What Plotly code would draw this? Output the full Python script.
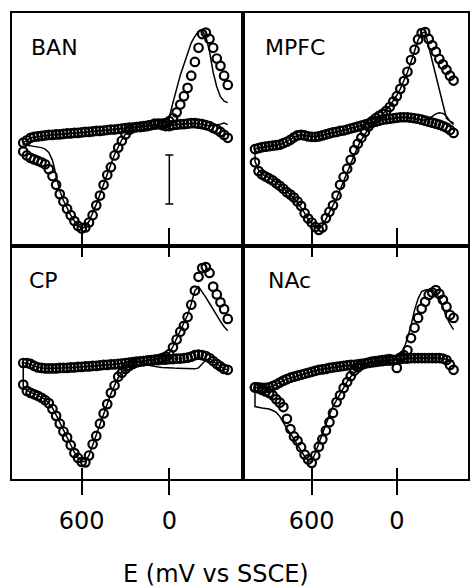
import plotly.graph_objects as go

# ---- potential sweep (mV vs SSCE) ----
E_up = [-400, -375, -350, -325, -300, -275, -250, -225, -200, -175,
        -150, -125, -100, -75, -50, -25, 0, 25, 50, 75,
        100, 125, 150, 175, 200, 225, 250, 275, 300, 325,
        350, 375, 400, 425, 450, 475, 500, 525, 550, 575,
        600, 625, 650, 675, 700, 725, 750, 775, 800, 825,
        850, 875, 900, 925, 950, 975, 1000]
E_down = [1000, 975, 950, 925, 900, 875, 850, 825, 800, 775,
          750, 725, 700, 675, 650, 625, 600, 575, 550, 525,
          500, 475, 450, 425, 400, 375, 350, 325, 300, 275,
          250, 225, 200, 175, 150, 125, 100, 75, 50, 25,
          0, -25, -50, -75, -100, -125, -150, -175, -200, -225,
          -250, -275, -300, -325, -350, -375, -400]

# ---- measured (circles): flat sweep (E_up) and peak sweep (E_down) ----
ban_meas_up = [-0.22, -0.16, -0.10, -0.05, -0.02, 0.02, 0.04, 0.06, 0.07, 0.08,
               0.08, 0.07, 0.06, 0.06, 0.05, 0.04, 0.02, 0.02, 0.04, 0.07,
               0.07, 0.04, 0.02, 0.01, 0.00, 0.00, -0.01, -0.01, -0.02, -0.03,
               -0.04, -0.05, -0.05, -0.06, -0.07, -0.08, -0.08, -0.09, -0.10, -0.10,
               -0.11, -0.12, -0.12, -0.13, -0.13, -0.14, -0.15, -0.15, -0.16, -0.16,
               -0.17, -0.18, -0.19, -0.20, -0.22, -0.27, -0.32]
ban_meas_down = [-0.50, -0.58, -0.63, -0.66, -0.69, -0.72, -0.76, -0.86, -1.00, -1.18,
                 -1.37, -1.52, -1.67, -1.80, -1.92, -2.02, -2.07, -2.05, -1.95, -1.80,
                 -1.60, -1.40, -1.18, -0.98, -0.82, -0.58, -0.42, -0.28, -0.15, -0.06,
                 -0.02, 0.00, 0.01, 0.02, 0.03, 0.04, 0.05, 0.06, 0.07, 0.08,
                 0.12, 0.18, 0.30, 0.46, 0.63, 0.80, 1.05, 1.33, 1.62, 1.90,
                 1.93, 1.80, 1.62, 1.40, 1.25, 1.05, 0.86]
mpfc_meas_up = [-0.12, -0.06, -0.01, 0.02, 0.05, 0.07, 0.09, 0.11, 0.13, 0.15,
                0.17, 0.18, 0.19, 0.20, 0.20, 0.20, 0.19, 0.18, 0.17, 0.16,
                0.15, 0.13, 0.11, 0.09, 0.07, 0.05, 0.03, 0.01, -0.01, -0.03,
                -0.05, -0.07, -0.08, -0.10, -0.11, -0.13, -0.15, -0.17, -0.19, -0.20,
                -0.20, -0.19, -0.17, -0.16, -0.17, -0.21, -0.26, -0.30, -0.33, -0.36,
                -0.37, -0.38, -0.39, -0.40, -0.41, -0.43, -0.45]
mpfc_meas_down = [-0.72, -0.90, -0.97, -1.01, -1.05, -1.09, -1.15, -1.20, -1.26, -1.33,
                  -1.38, -1.44, -1.52, -1.61, -1.76, -1.87, -1.95, -2.04, -2.10, -2.05,
                  -1.86, -1.73, -1.60, -1.40, -1.18, -1.02, -0.85, -0.67, -0.47, -0.34,
                  -0.22, -0.10, 0.01, 0.12, 0.18, 0.23, 0.27, 0.33, 0.41, 0.52,
                  0.63, 0.78, 0.94, 1.13, 1.37, 1.58, 1.79, 1.92, 1.94, 1.80,
                  1.67, 1.54, 1.39, 1.28, 1.17, 1.05, 0.95]
cp_meas_up = [-0.20, -0.18, -0.13, -0.08, -0.02, 0.04, 0.08, 0.10, 0.11, 0.10,
              0.07, 0.05, 0.04, 0.03, 0.03, 0.02, 0.02, 0.01, 0.01, 0.00,
              0.00, -0.01, -0.01, -0.02, -0.03, -0.03, -0.04, -0.05, -0.06, -0.07,
              -0.08, -0.09, -0.09, -0.10, -0.10, -0.11, -0.12, -0.12, -0.13, -0.13,
              -0.14, -0.14, -0.15, -0.15, -0.16, -0.16, -0.16, -0.17, -0.17, -0.17,
              -0.17, -0.16, -0.15, -0.12, -0.08, -0.06, -0.06]
cp_meas_down = [-0.50, -0.63, -0.67, -0.70, -0.73, -0.77, -0.82, -0.88, -1.00, -1.14,
                -1.30, -1.46, -1.58, -1.74, -1.90, -2.00, -2.08, -2.09, -1.95, -1.72,
                -1.55, -1.30, -1.09, -0.90, -0.67, -0.52, -0.34, -0.26, -0.18, -0.12,
                -0.08, -0.05, -0.03, -0.02, -0.01, 0.00, 0.01, 0.02, 0.04, 0.07,
                0.12, 0.26, 0.42, 0.58, 0.70, 0.88, 1.13, 1.42, 1.70, 1.88,
                1.90, 1.78, 1.50, 1.34, 1.18, 1.04, 0.84]
nac_meas_up = [-0.20, -0.10, 0.00, 0.03, 0.04, 0.04, 0.04, 0.04, 0.04, 0.04,
               0.04, 0.04, 0.04, 0.03, 0.03, 0.02, 0.01, 0.00, -0.01, -0.01,
               -0.02, -0.03, -0.04, -0.05, -0.06, -0.07, -0.08, -0.09, -0.10, -0.10,
               -0.11, -0.12, -0.13, -0.14, -0.15, -0.16, -0.18, -0.19, -0.20, -0.22,
               -0.24, -0.26, -0.28, -0.30, -0.32, -0.34, -0.36, -0.39, -0.42, -0.46,
               -0.50, -0.53, -0.56, -0.57, -0.57, -0.56, -0.56]
nac_meas_down = [-0.56, -0.58, -0.61, -0.64, -0.67, -0.72, -0.80, -0.87, -0.96, -1.20,
                 -1.41, -1.56, -1.65, -1.78, -1.93, -2.03, -2.10, -1.95, -1.77, -1.62,
                 -1.44, -1.27, -1.08, -0.86, -0.72, -0.57, -0.45, -0.33, -0.22, -0.15,
                 -0.10, -0.07, -0.05, -0.03, -0.02, -0.01, 0.00, 0.01, 0.02, 0.00,
                 -0.16, 0.05, 0.10, 0.20, 0.45, 0.66, 0.86, 1.05, 1.19, 1.33,
                 1.38, 1.43, 1.35, 1.23, 1.09, 0.92, 0.86]

# ---- model (solid line) ----
ban_fit_up = [0.05, 0.08, 0.06, 0.04, 0.03, 0.02, 0.04, 0.06, 0.07, 0.08,
              0.08, 0.07, 0.06, 0.06, 0.05, 0.04, 0.03, 0.03, 0.03, 0.03,
              0.03, 0.03, 0.02, 0.01, 0.00, 0.00, -0.01, -0.01, -0.02, -0.03,
              -0.04, -0.05, -0.05, -0.06, -0.07, -0.08, -0.08, -0.09, -0.10, -0.10,
              -0.11, -0.12, -0.12, -0.13, -0.13, -0.14, -0.15, -0.15, -0.16, -0.16,
              -0.17, -0.18, -0.19, -0.20, -0.22, -0.27, -0.32]
ban_fit_down = [-0.36, -0.37, -0.38, -0.39, -0.40, -0.42, -0.45, -0.52, -0.68, -1.00,
                -1.30, -1.50, -1.66, -1.80, -1.92, -2.02, -2.07, -2.04, -1.93, -1.77,
                -1.58, -1.38, -1.16, -0.95, -0.76, -0.56, -0.40, -0.26, -0.14, -0.06,
                -0.02, 0.00, 0.01, 0.02, 0.03, 0.04, 0.05, 0.06, 0.08, 0.10,
                0.20, 0.50, 0.80, 1.06, 1.28, 1.50, 1.72, 1.85, 1.96, 1.97,
                1.85, 1.55, 1.12, 0.82, 0.62, 0.53, 0.50]
mpfc_fit_up = [0.05, 0.12, 0.22, 0.28, 0.29, 0.27, 0.22, 0.17, 0.14, 0.15,
               0.17, 0.18, 0.19, 0.20, 0.20, 0.20, 0.19, 0.18, 0.17, 0.16,
               0.15, 0.13, 0.11, 0.09, 0.07, 0.05, 0.03, 0.01, -0.01, -0.03,
               -0.05, -0.07, -0.08, -0.10, -0.11, -0.13, -0.15, -0.17, -0.19, -0.20,
               -0.20, -0.19, -0.17, -0.16, -0.17, -0.21, -0.26, -0.30, -0.33, -0.36,
               -0.37, -0.38, -0.39, -0.40, -0.41, -0.43, -0.45]
mpfc_fit_down = [-0.70, -0.88, -0.96, -1.00, -1.04, -1.08, -1.14, -1.19, -1.25, -1.32,
                 -1.38, -1.45, -1.54, -1.64, -1.76, -1.88, -1.97, -2.05, -2.08, -2.02,
                 -1.88, -1.74, -1.62, -1.46, -1.28, -1.10, -0.92, -0.74, -0.56, -0.40,
                 -0.26, -0.14, -0.04, 0.05, 0.12, 0.18, 0.26, 0.34, 0.43, 0.53,
                 0.65, 0.78, 0.94, 1.12, 1.33, 1.58, 1.78, 1.91, 1.95, 1.64,
                 1.35, 1.06, 0.76, 0.47, 0.18, 0.12, 0.08]
cp_fit_up = [-0.20, -0.18, -0.13, -0.08, -0.02, 0.03, 0.00, -0.08, -0.16, -0.18,
             -0.18, -0.18, -0.17, -0.17, -0.17, -0.16, -0.16, -0.15, -0.15, -0.14,
             -0.13, -0.12, -0.10, -0.06, -0.04, -0.03, -0.04, -0.05, -0.06, -0.07,
             -0.08, -0.09, -0.09, -0.10, -0.10, -0.11, -0.12, -0.12, -0.13, -0.13,
             -0.14, -0.14, -0.15, -0.15, -0.16, -0.16, -0.16, -0.17, -0.17, -0.17,
             -0.17, -0.16, -0.15, -0.12, -0.08, -0.06, -0.06]
cp_fit_down = [-0.55, -0.62, -0.66, -0.69, -0.72, -0.76, -0.81, -0.88, -0.98, -1.12,
               -1.28, -1.44, -1.57, -1.73, -1.88, -1.99, -2.07, -2.07, -1.95, -1.74,
               -1.55, -1.32, -1.10, -0.90, -0.69, -0.52, -0.36, -0.26, -0.18, -0.12,
               -0.08, -0.05, -0.03, -0.02, -0.01, 0.00, 0.01, 0.02, 0.04, 0.08,
               0.14, 0.28, 0.44, 0.60, 0.74, 0.92, 1.15, 1.42, 1.50, 1.40,
               1.28, 1.16, 1.03, 0.91, 0.79, 0.68, 0.60]
nac_fit_up = [-0.02, 0.00, 0.02, 0.03, 0.04, 0.04, 0.04, 0.04, 0.04, 0.04,
              0.04, 0.04, 0.04, 0.03, 0.03, 0.02, 0.01, 0.00, -0.01, -0.01,
              -0.02, -0.03, -0.04, -0.05, -0.06, -0.07, -0.08, -0.09, -0.10, -0.10,
              -0.11, -0.12, -0.13, -0.14, -0.15, -0.16, -0.18, -0.19, -0.20, -0.22,
              -0.24, -0.26, -0.28, -0.30, -0.32, -0.34, -0.36, -0.39, -0.42, -0.46,
              -0.50, -0.53, -0.56, -0.57, -0.57, -0.56, -0.56]
nac_fit_down = [-0.95, -0.97, -0.98, -0.99, -1.00, -1.03, -1.07, -1.15, -1.28, -1.40,
                -1.50, -1.62, -1.76, -1.87, -1.97, -2.05, -2.08, -1.90, -1.70, -1.52,
                -1.33, -1.12, -0.95, -0.82, -0.68, -0.56, -0.44, -0.34, -0.26, -0.19,
                -0.13, -0.09, -0.06, -0.04, -0.03, -0.02, -0.01, 0.00, 0.00, 0.00,
                0.00, 0.05, 0.22, 0.45, 0.70, 1.02, 1.25, 1.40, 1.43, 1.44,
                1.43, 1.38, 1.26, 1.08, 0.88, 0.74, 0.62]

panel_names = ["BAN", "MPFC", "CP", "NAc"]
meas_up = [ban_meas_up, mpfc_meas_up, cp_meas_up, nac_meas_up]
meas_down = [ban_meas_down, mpfc_meas_down, cp_meas_down, nac_meas_down]
fit_up = [ban_fit_up, mpfc_fit_up, cp_fit_up, nac_fit_up]
fit_down = [ban_fit_down, mpfc_fit_down, cp_fit_down, nac_fit_down]

# scale bar (current units) drawn in the BAN panel
scale_bar_E = [0]
scale_bar_I = [-1.07]
scale_bar_half = [0.5]

tick_vals = [600, 0]
tick_text = ["600", "0"]
x_title = "E (mV vs SSCE)"

FONT = "DejaVu Sans"
fig = go.Figure()

axis_ids = ["", "2", "3", "4"]
for k in range(4):
    xa, ya = "x" + axis_ids[k], "y" + axis_ids[k]
    E_path = E_up + E_down
    fig.add_trace(go.Scatter(
        x=E_path, y=fit_up[k] + fit_down[k], mode="lines",
        line=dict(color="black", width=1.5), xaxis=xa, yaxis=ya,
        showlegend=False, hoverinfo="skip"))
    fig.add_trace(go.Scatter(
        x=E_path, y=meas_up[k] + meas_down[k], mode="markers",
        marker=dict(symbol="circle-open", size=8.5, color="black",
                    line=dict(width=2.2, color="black")),
        xaxis=xa, yaxis=ya, showlegend=False, hoverinfo="skip"))

fig.add_trace(go.Scatter(
    x=scale_bar_E, y=scale_bar_I, mode="markers", marker=dict(opacity=0),
    error_y=dict(type="data", array=scale_bar_half, visible=True,
                 color="black", thickness=1.5, width=4),
    xaxis="x", yaxis="y", showlegend=False, hoverinfo="skip"))

# empty traces so the overlay tick axes are drawn
fig.add_trace(go.Scatter(x=[], y=[], xaxis="x5", yaxis="y3", showlegend=False))
fig.add_trace(go.Scatter(x=[], y=[], xaxis="x6", yaxis="y4", showlegend=False))

xl = [0, 0.5055]
xr = [0.5055, 1]
yt = [0.5, 1]
yb = [0, 0.5]
range_l = [1077, -501]
range_r = [1088, -502]
yrange = [-2.43, 2.33]

line_kw = dict(showline=True, linecolor="black", linewidth=2, mirror=True,
               showgrid=False, zeroline=False)

def xax(dom, rng, anchor, ticks, tlen, labels):
    return dict(domain=dom, range=rng, anchor=anchor, ticks=ticks, ticklen=tlen,
                tickwidth=2, tickcolor="black", tickmode="array",
                tickvals=tick_vals, ticktext=tick_text, showticklabels=labels,
                tickfont=dict(family=FONT, size=24, color="black"), **line_kw)

def yax(dom, anchor):
    return dict(domain=dom, range=yrange, anchor=anchor, ticks="",
                showticklabels=False, **line_kw)

def overlay(base, anchor, rng):
    return dict(overlaying=base, anchor=anchor, range=rng, ticks="inside",
                ticklen=11, tickwidth=2, tickcolor="black", tickmode="array",
                tickvals=tick_vals, showticklabels=False, showline=True,
                linecolor="black", linewidth=2, mirror="ticks",
                showgrid=False, zeroline=False)

fig.update_layout(
    width=471, height=587,
    margin=dict(l=12, r=1, t=13, b=108),
    paper_bgcolor="white", plot_bgcolor="white",
    font=dict(family=FONT, color="black"),
    xaxis=xax(xl, range_l, "y", "inside", 18, False),
    yaxis=yax(yt, "x"),
    xaxis2=xax(xr, range_r, "y2", "inside", 18, False),
    yaxis2=yax(yt, "x2"),
    xaxis3=xax(xl, range_l, "y3", "outside", 14, True),
    yaxis3=yax(yb, "x3"),
    xaxis4=xax(xr, range_r, "y4", "outside", 14, True),
    yaxis4=yax(yb, "x4"),
    xaxis5=overlay("x3", "y3", range_l),
    xaxis6=overlay("x4", "y4", range_r),
)
fig.update_layout(xaxis3_ticklabelstandoff=5, xaxis4_ticklabelstandoff=5)

label_pos = [("x domain", "y domain"), ("x2 domain", "y2 domain"),
             ("x3 domain", "y3 domain"), ("x4 domain", "y4 domain")]
label_x = [0.075, 0.09, 0.065, 0.105]
for k, name in enumerate(panel_names):
    fig.add_annotation(text=name, xref=label_pos[k][0], yref=label_pos[k][1],
                       x=label_x[k], y=0.915, xanchor="left", yanchor="top",
                       showarrow=False,
                       font=dict(family=FONT, size=22, color="black"))

fig.add_annotation(text=x_title, xref="paper", yref="paper", x=0.4476, y=-0.17,
                   xanchor="center", yanchor="top", showarrow=False,
                   font=dict(family=FONT, size=24, color="black"))

fig.write_html("out.html")
